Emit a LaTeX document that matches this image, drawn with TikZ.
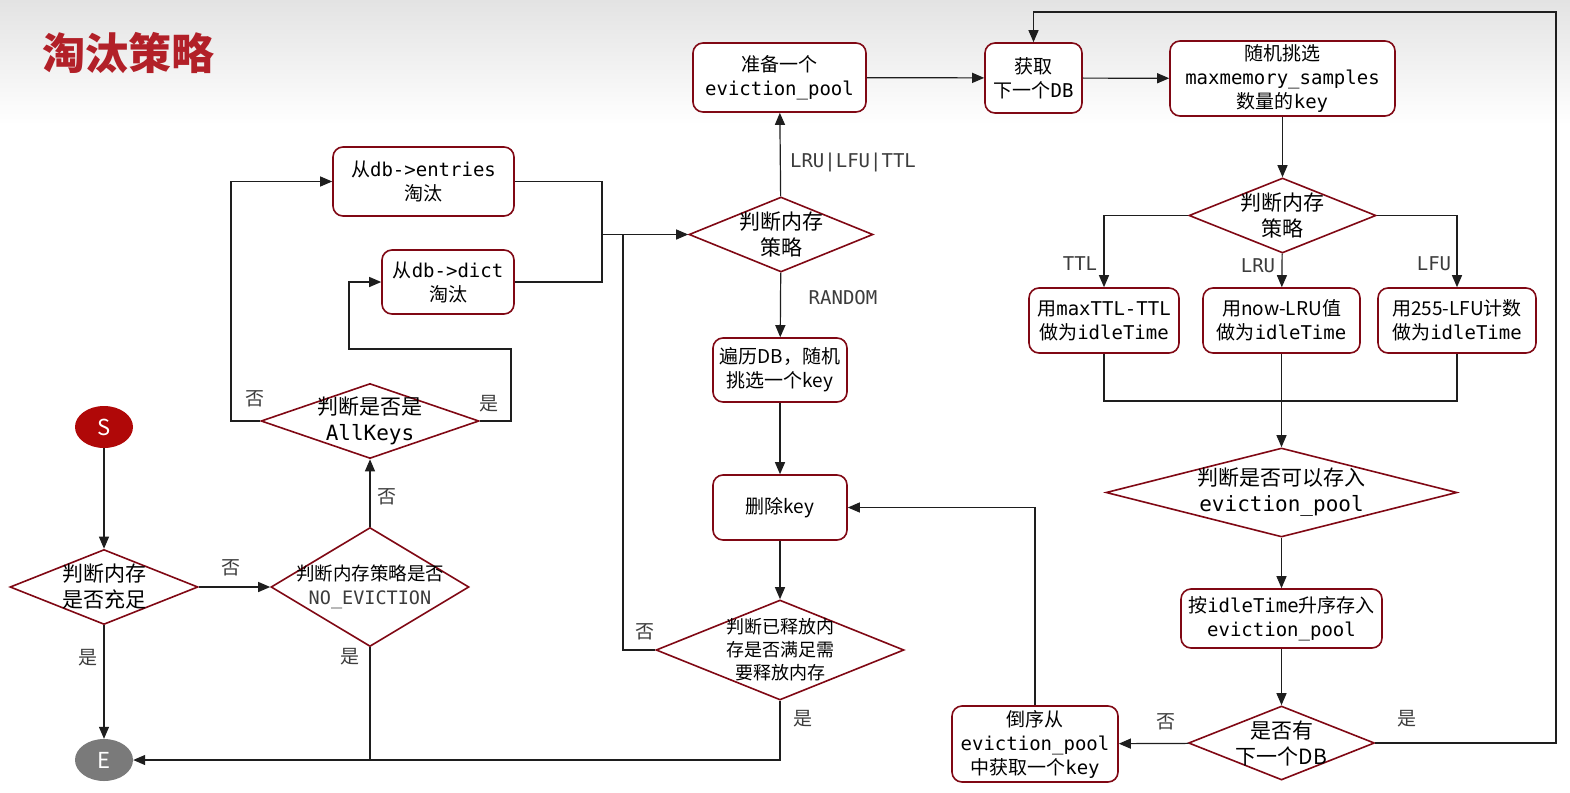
\documentclass[tikz,border=0pt]{standalone}
\usepackage{fontspec}
\setmainfont{Noto Sans CJK SC}
\newfontfamily\monofont{DejaVu Sans Mono}
\newcommand{\mt}[1]{{\monofont #1}}
\usetikzlibrary{shapes.geometric}
\usetikzlibrary{arrows.meta}

\definecolor{boxred}{RGB}{128,8,20}
\definecolor{titlered}{RGB}{178,32,40}
\definecolor{startred}{RGB}{176,8,8}
\definecolor{endgray}{RGB}{122,122,122}
\definecolor{linegray}{RGB}{30,30,30}
\definecolor{lblgray}{RGB}{60,60,60}

\begin{document}
\begin{tikzpicture}[x=1pt,y=-1pt,font=\fontsize{19}{24}\selectfont,
box/.style={draw=boxred, line width=1.6pt, rounded corners=10pt, fill=white, align=center, inner sep=2pt},
dia/.style={diamond, draw=boxred, line width=1.6pt, fill=white, inner sep=0pt},
dtxt/.style={align=center, font=\fontsize{21}{26}\selectfont},
flow/.style={draw=linegray, line width=1.2pt, -{Triangle[length=12pt,width=10pt]}},
link/.style={draw=linegray, line width=1.2pt},
lbl/.style={text=lblgray},
term/.style={ellipse, minimum width=58, minimum height=42, inner sep=0pt, text=white, font=\fontsize{22}{24}\selectfont}]

\fill[white] (0,0) rectangle (1570,792);
\shade[top color=black!11, bottom color=white] (0,0) rectangle (1570,125);
\useasboundingbox (0,0) rectangle (1570,792);

\node[text=titlered, anchor=west, font=\fontsize{43}{45}\selectfont\bfseries] (title) at (39,53) {淘汰策略};

% left part
\node[term, fill=startred] (S) at (104,427) {S};
\node[term, fill=endgray] (E) at (104,760) {E};
\node[dia, minimum width=188, minimum height=75, label={[dtxt]center:{判断内存\\是否充足}}] (d1) at (104,587) {};
\node[dia, minimum width=198, minimum height=119, label={[dtxt, font=\fontsize{18.5}{24}\selectfont]center:{判断内存策略是否\\{\monofont\color{lblgray}NO\_EVICTION}}}] (d2) at (370,587) {};
\node[dia, minimum width=218, minimum height=75, label={[dtxt]center:{判断是否是\\\mt{AllKeys}}}] (d3) at (370,421) {};
\node[box, minimum width=181, minimum height=69] (b1) at (423.5,181.5) {从\mt{db->entries}\\淘汰};
\node[box, minimum width=132, minimum height=64] (b2) at (448,282) {从\mt{db->dict}\\淘汰};

% middle part
\node[dia, minimum width=184, minimum height=75, label={[dtxt]center:{判断内存\\策略}}] (d4) at (781,234.5) {};
\node[box, minimum width=173, minimum height=69] (b3) at (779.5,77.5) {准备一个\\\mt{eviction\_pool}};
\node[box, minimum width=134, minimum height=64] (b4) at (780,370) {遍历DB，随机\\挑选一个key};
\node[box, minimum width=134, minimum height=65] (b5) at (780,507.5) {删除key};
\node[dia, minimum width=248, minimum height=100, label={[dtxt, font=\fontsize{18}{23}\selectfont]center:{判断已释放内\\存是否满足需\\要释放内存}}] (d5) at (780,650) {};

% right part
\node[box, minimum width=97, minimum height=70] (b6) at (1033.5,78) {获取\\下一个\mt{DB}};
\node[box, minimum width=225, minimum height=75] (b7) at (1282.5,78.5) {随机挑选\\\mt{maxmemory\_samples}\\数量的\mt{key}};
\node[dia, minimum width=187, minimum height=75, label={[dtxt]center:{判断内存\\策略}}] (d6) at (1282.5,215.5) {};
\node[box, minimum width=150, minimum height=65] (b8) at (1104,320.5) {用\mt{maxTTL-TTL}\\做为\mt{idleTime}};
\node[box, minimum width=157, minimum height=65] (b9) at (1281.5,320.5) {用now-LRU值\\做为\mt{idleTime}};
\node[box, minimum width=158, minimum height=65] (b10) at (1457,320.5) {用255-LFU计数\\做为\mt{idleTime}};
\node[dia, minimum width=351, minimum height=89, label={[dtxt]center:{判断是否可以存入\\\mt{eviction\_pool}}}] (d7) at (1281.5,492.5) {};
\node[box, minimum width=201, minimum height=59] (b11) at (1281.5,618.5) {按\mt{idleTime}升序存入\\\mt{eviction\_pool}};
\node[dia, minimum width=186, minimum height=74, label={[dtxt]center:{是否有\\下一个DB}}] (d8) at (1281.5,743) {};
\node[box, minimum width=166, minimum height=76] (b12) at (1035,744) {倒序从\\\mt{eviction\_pool}\\中获取一个\mt{key}};

% bends
\coordinate (nL) at (231,421);
\coordinate (yR) at (511,349);
\coordinate (yL) at (349,349);
\coordinate (m1) at (602,234.5);
\coordinate (m2) at (623,234.5);
\coordinate (m3) at (1281.5,401);
\coordinate (loop) at (1556,12);

% connectors
\draw[flow] (S) -- (d1);
\draw[flow] (d1) -- (E);
\draw[flow] (d1) -- (d2);
\draw[flow] (d2) -- (d3);
\draw[link] (d2.south) -- (d2.south |- E.east);
\draw[flow] (d5.south) |- (E.east);
\draw[flow] (d3.west) -- (nL) |- (b1.west);
\draw[flow] (d3.east) -| (yR) -- (yL) |- (b2.west);
\draw[link] (b1.east) -| (m1);
\draw[link] (b2.east) -| (m1);
\draw[flow] (m1) -- (d4.west);
\draw[link] (d5.west) -| (m2);
\draw[flow] (d4) -- (b3);
\draw[flow] (d4) -- (b4);
\draw[flow] (b4) -- (b5);
\draw[flow] (b5) -- (d5);
\draw[flow] (b3) -- (b6);
\draw[flow] (b6) -- (b7);
\draw[flow] (b7) -- (d6);
\draw[flow] (d6.west) -| (b8.north);
\draw[flow] (d6) -- (b9);
\draw[flow] (d6.east) -| (b10.north);
\draw[link] (b8.south) |- (m3);
\draw[link] (b10.south) |- (m3);
\draw[flow] (b9.south) -- (d7.north);
\draw[flow] (d7) -- (b11);
\draw[flow] (b11) -- (d8);
\draw[flow] (d8) -- (b12);
\draw[flow] (d8.east) -| (loop) -| (b6.north);
\draw[flow] (b12.north) |- (b5.east);

% labels
\node[lbl] (l1) at (231,568) {否};
\node[lbl] (l2) at (88,658) {是};
\node[lbl] (l3) at (387,497) {否};
\node[lbl] (l4) at (350,657) {是};
\node[lbl] (l5) at (255,399) {否};
\node[lbl] (l6) at (489,404) {是};
\node[lbl] (l7) at (645,632) {否};
\node[lbl] (l8) at (803,719) {是};
\node[lbl, font=\monofont\fontsize{19}{24}\selectfont] (l9) at (853,162) {LRU|LFU|TTL};
\node[lbl, font=\monofont\fontsize{19}{24}\selectfont] (l10) at (843,298) {RANDOM};
\node[lbl, font=\monofont\fontsize{19}{24}\selectfont] (l11) at (1080,264) {TTL};
\node[lbl, font=\monofont\fontsize{19}{24}\selectfont] (l12) at (1258,266) {LRU};
\node[lbl, font=\monofont\fontsize{19}{24}\selectfont] (l13) at (1434,264) {LFU};
\node[lbl] (l14) at (1166,722) {否};
\node[lbl] (l15) at (1407,719) {是};
\end{tikzpicture}
\end{document}
